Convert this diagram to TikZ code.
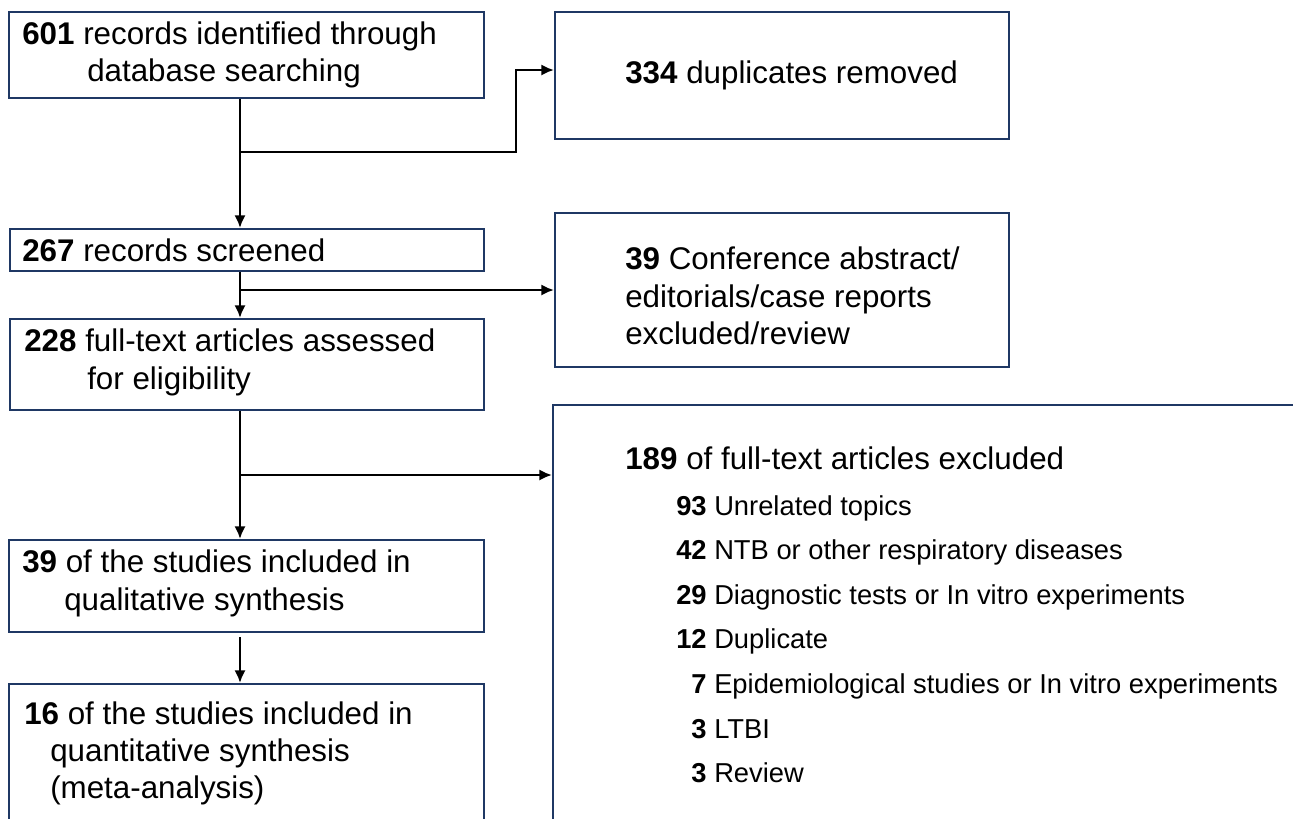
\documentclass[tikz,border=0pt]{standalone}
\usepackage{fontspec}
\setmainfont{Liberation Sans}
\usetikzlibrary{arrows.meta,fit}
\definecolor{boxc}{HTML}{1F3864}
\begin{document}
\begin{tikzpicture}[x=0.75pt,y=-0.75pt,
  box/.style={draw=boxc, line width=1.5pt, inner sep=0pt},
  txt/.style={anchor=base west, inner sep=0pt, font=\fontsize{23.5}{28}\selectfont},
  itm/.style={anchor=base west, inner sep=0pt, font=\fontsize{20.5}{24}\selectfont},
  arr/.style={line width=2.2pt, -{Latex[length=9.5pt,width=8.5pt]}}]
\useasboundingbox (0,0) rectangle (1293,818);
\clip (0,0) rectangle (1293,818);

% boxes
\node[box, fit={(9,12)(484,98)}] (b1) {};
\node[box, fit={(555,12)(1009,139)}] (dup) {};
\node[box, fit={(10,229)(484,271)}] (b267) {};
\node[box, fit={(555,213)(1009,367)}] (conf) {};
\node[box, fit={(10,319)(484,410)}] (b228) {};
\node[box, fit={(553,405)(1320,840)}] (b189) {};
\node[box, fit={(9,540)(484,632)}] (b39) {};
\node[box, fit={(9,684)(484,840)}] (b16) {};

% texts
\node[txt] (t1a) at (22,44) {\textbf{601} records identified through};
\node[txt] (t1b) at (87,81) {database searching};
\node[txt] (tdup) at (625,83) {\textbf{334} duplicates removed};
\node[txt] (t267) at (22,261) {\textbf{267} records screened};
\node[txt] (tc1) at (625,269) {\textbf{39} Conference abstract/};
\node[txt] (tc2) at (625,307) {editorials/case reports};
\node[txt] (tc3) at (625,344) {excluded/review};
\node[txt] (t228a) at (24,351) {\textbf{228} full-text articles assessed};
\node[txt] (t228b) at (87,389) {for eligibility};
\node[txt] (t39a) at (22,572) {\textbf{39} of the studies included in};
\node[txt] (t39b) at (64,610) {qualitative synthesis};
\node[txt] (t16a) at (24,724) {\textbf{16} of the studies included in};
\node[txt] (t16b) at (50,761) {quantitative synthesis};
\node[txt] (t16c) at (50,798) {(meta-analysis)};
\node[txt] (t189) at (625,469) {\textbf{189} of full-text articles excluded};
\node[itm] (i1) at (676,515) {\makebox[1.112em][r]{\textbf{93}} Unrelated topics};
\node[itm] (i2) at (676,559) {\makebox[1.112em][r]{\textbf{42}} NTB or other respiratory diseases};
\node[itm] (i3) at (676,604) {\makebox[1.112em][r]{\textbf{29}} Diagnostic tests or In vitro experiments};
\node[itm] (i4) at (676,648) {\makebox[1.112em][r]{\textbf{12}} Duplicate};
\node[itm] (i5) at (676,693) {\makebox[1.112em][r]{\textbf{7}} Epidemiological studies or In vitro experiments};
\node[itm] (i6) at (676,738) {\makebox[1.112em][r]{\textbf{3}} LTBI};
\node[itm] (i7) at (676,782) {\makebox[1.112em][r]{\textbf{3}} Review};

% connectors
\coordinate (sx) at (240,0);
\coordinate (j1) at (240,152);
\coordinate (k1) at (516,70);
\coordinate (j2) at (240,290);
\coordinate (j3) at (240,475);
\coordinate (s4) at (240,637);

\draw[arr] (b1.south -| sx) -- (b267.north -| sx);
\draw[arr] (j1) -| (k1) -- (k1 -| dup.west);
\draw[arr] (b267.south -| sx) -- (b228.north -| sx);
\draw[arr] (j2) -- (j2 -| conf.west);
\draw[arr] (b228.south -| sx) -- (b39.north -| sx);
\draw[arr] (j3) -- (j3 -| b189.west);
\draw[arr] (s4) -- (b16.north -| sx);
\end{tikzpicture}
\end{document}
